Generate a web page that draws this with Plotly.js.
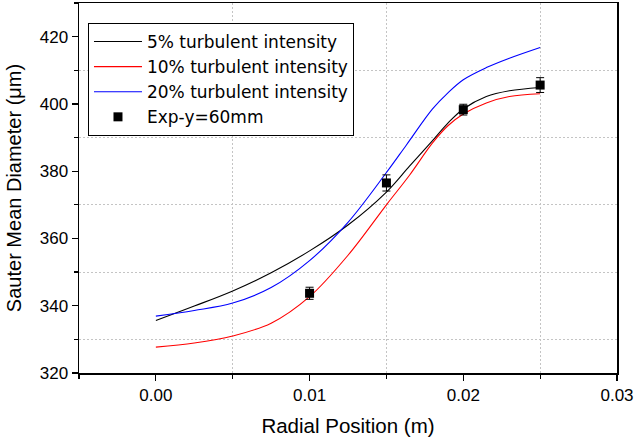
<!DOCTYPE html>
<html>
<head>
<meta charset="utf-8">
<script src="https://cdn.plot.ly/plotly-3.0.1.min.js"></script>
<style>html,body{margin:0;padding:0;background:#fff;}#chart{width:637px;height:438px;}</style>
</head>
<body>
<div id="chart"></div>
<script>
// Simulated curves (radial position in m, Sauter mean diameter in µm)
const xBlack = [0.0, 0.0025, 0.005, 0.0075, 0.01, 0.0125, 0.015, 0.0165, 0.018, 0.019, 0.02, 0.0215, 0.023, 0.025];
const yBlack = [335.6, 339.9, 344.4, 349.8, 356.3, 364.0, 373.8, 381.5, 389.1, 394.3, 398.5, 402.2, 403.9, 404.9];

const xRed = [0.0, 0.0025, 0.005, 0.0075, 0.01, 0.0125, 0.015, 0.0165, 0.018, 0.019, 0.02, 0.0215, 0.023, 0.025];
const yRed = [327.7, 328.9, 331.0, 334.8, 342.7, 355.0, 370.0, 378.8, 388.4, 393.5, 397.0, 400.3, 402.2, 403.0];

const xBlue = [0.0, 0.0025, 0.005, 0.0075, 0.01, 0.0125, 0.015, 0.0163, 0.018, 0.019, 0.02, 0.0215, 0.023, 0.025];
const yBlue = [336.9, 338.6, 340.8, 345.4, 353.4, 364.8, 379.6, 387.8, 398.5, 403.3, 407.2, 410.8, 413.6, 416.8];

// Experimental data
const xExp = [0.01, 0.015, 0.02, 0.025];
const yExp = [343.7, 376.5, 398.3, 405.6];
const errExp = [1.8, 2.4, 1.6, 2.2];

const seriesNames = ['5% turbulent intensity', '10% turbulent intensity', '20% turbulent intensity', 'Exp-y=60mm'];

const traces = [
  {x: xBlack, y: yBlack, name: seriesNames[0], mode: 'lines', line: {color: '#000000', width: 1.1, shape: 'spline', smoothing: 1}},
  {x: xRed, y: yRed, name: seriesNames[1], mode: 'lines', line: {color: '#ff0000', width: 1.1, shape: 'spline', smoothing: 1}},
  {x: xBlue, y: yBlue, name: seriesNames[2], mode: 'lines', line: {color: '#0000ff', width: 1.1, shape: 'spline', smoothing: 1}},
  {x: xExp, y: yExp, name: seriesNames[3], mode: 'markers', marker: {symbol: 'square', size: 9, color: '#000000'},
   error_y: {type: 'data', array: errExp, visible: true, color: '#000000', thickness: 1, width: 4}}
];

const fontFam = 'Arial, "Liberation Sans", sans-serif';
const legendFam = '"DejaVu Sans", Arial, sans-serif';
const gridStyle = {showgrid: true, gridcolor: '#c4c4c4', gridwidth: 1, griddash: '2px,2px'};

const layout = {
  width: 637, height: 438,
  margin: {l: 79, r: 20, t: 3, b: 65},
  paper_bgcolor: '#ffffff', plot_bgcolor: '#ffffff',
  font: {family: fontFam, color: '#000000', size: 17},
  showlegend: true,
  legend: {
    x: 0.0167, y: 0.946, xanchor: 'left', yanchor: 'top',
    bgcolor: '#ffffff', bordercolor: '#000000', borderwidth: 1,
    font: {family: legendFam, size: 17, color: '#000000'},
    itemwidth: 48, tracegroupgap: 0
  },
  xaxis: {
    range: [-0.005, 0.03],
    tickmode: 'linear', tick0: 0, dtick: 0.01, tickformat: '.2f',
    ticks: 'outside', ticklen: 6, tickwidth: 1.2, tickcolor: '#000000',
    showline: true, linecolor: '#000000', linewidth: 1.5, mirror: true,
    showgrid: false, zeroline: false,
    minor: Object.assign({tickmode: 'linear', tick0: 0, dtick: 0.005, ticks: 'outside', ticklen: 4, tickwidth: 1.2, tickcolor: '#000000'}, gridStyle),
    tickfont: {family: fontFam, size: 17, color: '#000000'},
    title: {text: 'Radial Position (m)', font: {family: fontFam, size: 20.5, color: '#000000'}, standoff: 14}
  },
  yaxis: {
    range: [320, 430],
    tickmode: 'linear', tick0: 320, dtick: 20,
    ticks: 'outside', ticklen: 6, tickwidth: 1.2, tickcolor: '#000000',
    showline: true, linecolor: '#000000', linewidth: 1.5, mirror: true,
    showgrid: false, zeroline: false,
    minor: Object.assign({tickmode: 'linear', tick0: 320, dtick: 10, ticks: 'outside', ticklen: 4, tickwidth: 1.2, tickcolor: '#000000'}, gridStyle),
    tickfont: {family: fontFam, size: 17, color: '#000000'},
    title: {text: 'Sauter Mean Diameter (\u03bcm)', font: {family: fontFam, size: 20, color: '#000000'}, standoff: 12}
  }
};

Plotly.newPlot('chart', traces, layout, {displayModeBar: false, staticPlot: true});
</script>
</body>
</html>
